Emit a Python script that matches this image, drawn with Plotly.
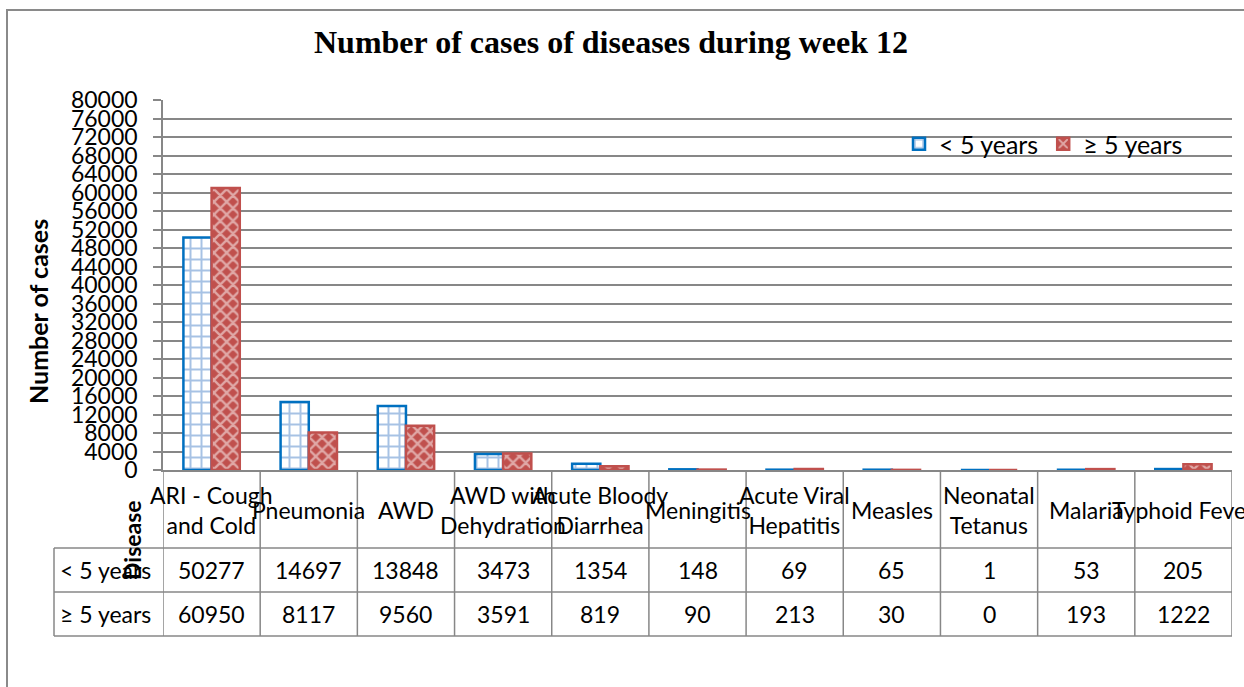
import plotly.graph_objects as go

# ---------------- data ----------------
categories = ["ARI - Cough and Cold", "Pneumonia", "AWD", "AWD with Dehydration",
              "Acute Bloody Diarrhea", "Meningitis", "Acute Viral Hepatitis", "Measles",
              "Neonatal Tetanus", "Malaria", "Typhoid Fever"]
category_labels = ["ARI - Cough<br>and Cold", "Pneumonia", "AWD", "AWD with<br>Dehydration",
                   "Acute Bloody<br>Diarrhea", "Meningitis", "Acute Viral<br>Hepatitis", "Measles",
                   "Neonatal<br>Tetanus", "Malaria", "Typhoid Fever"]
under5 = [50277, 14697, 13848, 3473, 1354, 148, 69, 65, 1, 53, 205]
over5 = [60950, 8117, 9560, 3591, 819, 90, 213, 30, 0, 193, 1222]
series_names = ["< 5 years", "≥ 5 years"]
y_max = 80000
y_step = 4000

# ---------------- layout geometry (pixels) ----------------
W, H = 1244, 687
L, R, T, B = 163, 1232, 100, 470
ROW1, ROW2, ROW3 = 548, 592, 636
TABLE_LEFT = 54
GRID = "#878787"
FONT = "Lato"
FS = 23


def xp(p):
    return (p - L) / (R - L)


def yp(p):
    return (B - p) / (B - T)


idx = list(range(len(categories)))

fig = go.Figure()
fig.add_trace(go.Bar(
    x=idx, y=under5, name=series_names[0],
    marker=dict(color="white", line=dict(color="#0070C0", width=2.5),
                pattern=dict(shape="+", fgcolor="#4F86CA", bgcolor="white",
                             size=11, solidity=0.33)),
))
fig.add_trace(go.Bar(
    x=idx, y=over5, name=series_names[1],
    marker=dict(color="#C0504D", line=dict(color="#C0504D", width=2.5),
                pattern=dict(shape="x", fgcolor="white", bgcolor="#C0504D",
                             size=9, solidity=0.45)),
))

shapes = []
line_style = dict(color=GRID, width=1.5)
for k in range(len(categories) + 1):
    shapes.append(dict(type="line", xref="x", yref="paper", x0=k - 0.5, x1=k - 0.5,
                       y0=yp(B), y1=yp(ROW3), line=line_style))
for row in (ROW1, ROW2, ROW3):
    shapes.append(dict(type="line", xref="paper", yref="paper", x0=xp(TABLE_LEFT), x1=xp(R),
                       y0=yp(row), y1=yp(row), line=line_style))
shapes.append(dict(type="line", xref="paper", yref="paper", x0=xp(TABLE_LEFT), x1=xp(TABLE_LEFT),
                   y0=yp(ROW1), y1=yp(ROW3), line=line_style))
shapes.append(dict(type="rect", xref="paper", yref="paper", x0=xp(7), x1=xp(1270),
                   y0=yp(720), y1=yp(10), line=dict(color="#8A8A8A", width=2),
                   fillcolor="rgba(0,0,0,0)", layer="below"))

annotations = []
for i, lab in enumerate(category_labels):
    annotations.append(dict(x=i, y=yp(510), xref="x", yref="paper", text=lab, showarrow=False,
                            xanchor="center", yanchor="middle",
                            font=dict(family=FONT, size=FS, color="black")))
for row_y, name, vals in ((570, series_names[0], under5), (614, series_names[1], over5)):
    annotations.append(dict(x=xp(TABLE_LEFT + 4), y=yp(row_y), xref="paper", yref="paper",
                            text=name, showarrow=False, xanchor="left", yanchor="middle",
                            font=dict(family=FONT, size=FS, color="black")))
    for i, v in enumerate(vals):
        annotations.append(dict(x=i, y=yp(row_y), xref="x", yref="paper", text=str(v),
                                showarrow=False, xanchor="center", yanchor="middle",
                                font=dict(family=FONT, size=FS, color="black")))
annotations.append(dict(x=xp(38), y=yp(312), xref="paper", yref="paper", text="<b>Number of cases</b>",
                        textangle=-90, showarrow=False, xanchor="center", yanchor="middle",
                        font=dict(family=FONT, size=25, color="black")))
annotations.append(dict(x=xp(132), y=yp(540), xref="paper", yref="paper", text="<b>Disease</b>",
                        textangle=-90, showarrow=False, xanchor="center", yanchor="middle",
                        font=dict(family=FONT, size=FS, color="black")))

fig.update_layout(
    width=W, height=H,
    margin=dict(l=L, r=W - R, t=T, b=H - B, autoexpand=False),
    paper_bgcolor="white", plot_bgcolor="white",
    title=dict(text="Number of cases of diseases during week 12", x=611 / W, xanchor="center",
               y=1 - 42 / H, yanchor="middle", xref="container",
               font=dict(family="Liberation Serif", size=32, color="black", weight="bold")),
    barmode="group", bargap=0.42, bargroupgap=0,
    showlegend=True,
    legend=dict(orientation="h", x=xp(899), y=yp(144), xanchor="left", yanchor="middle",
                font=dict(family=FONT, size=25, color="black"), bgcolor="rgba(0,0,0,0)",
                traceorder="normal"),
    shapes=shapes, annotations=annotations,
    xaxis=dict(range=[-0.5, len(categories) - 0.5], showticklabels=False, showgrid=False,
               zeroline=False, showline=True, linecolor=GRID, linewidth=1.5, ticks=""),
    yaxis=dict(range=[0, y_max], dtick=y_step, tick0=0, tickformat="d",
               showgrid=True, gridcolor=GRID, gridwidth=1.5, zeroline=False,
               showline=True, linecolor=GRID, linewidth=1.5, ticks="outside", ticklen=8,
               tickcolor=GRID, tickwidth=1.5, automargin=False, ticklabelstandoff=11,
               tickfont=dict(family=FONT, size=FS, color="black")),
)

fig.write_html("out.html", config={"displayModeBar": False},
               post_script="document.body.style.margin='0';")
